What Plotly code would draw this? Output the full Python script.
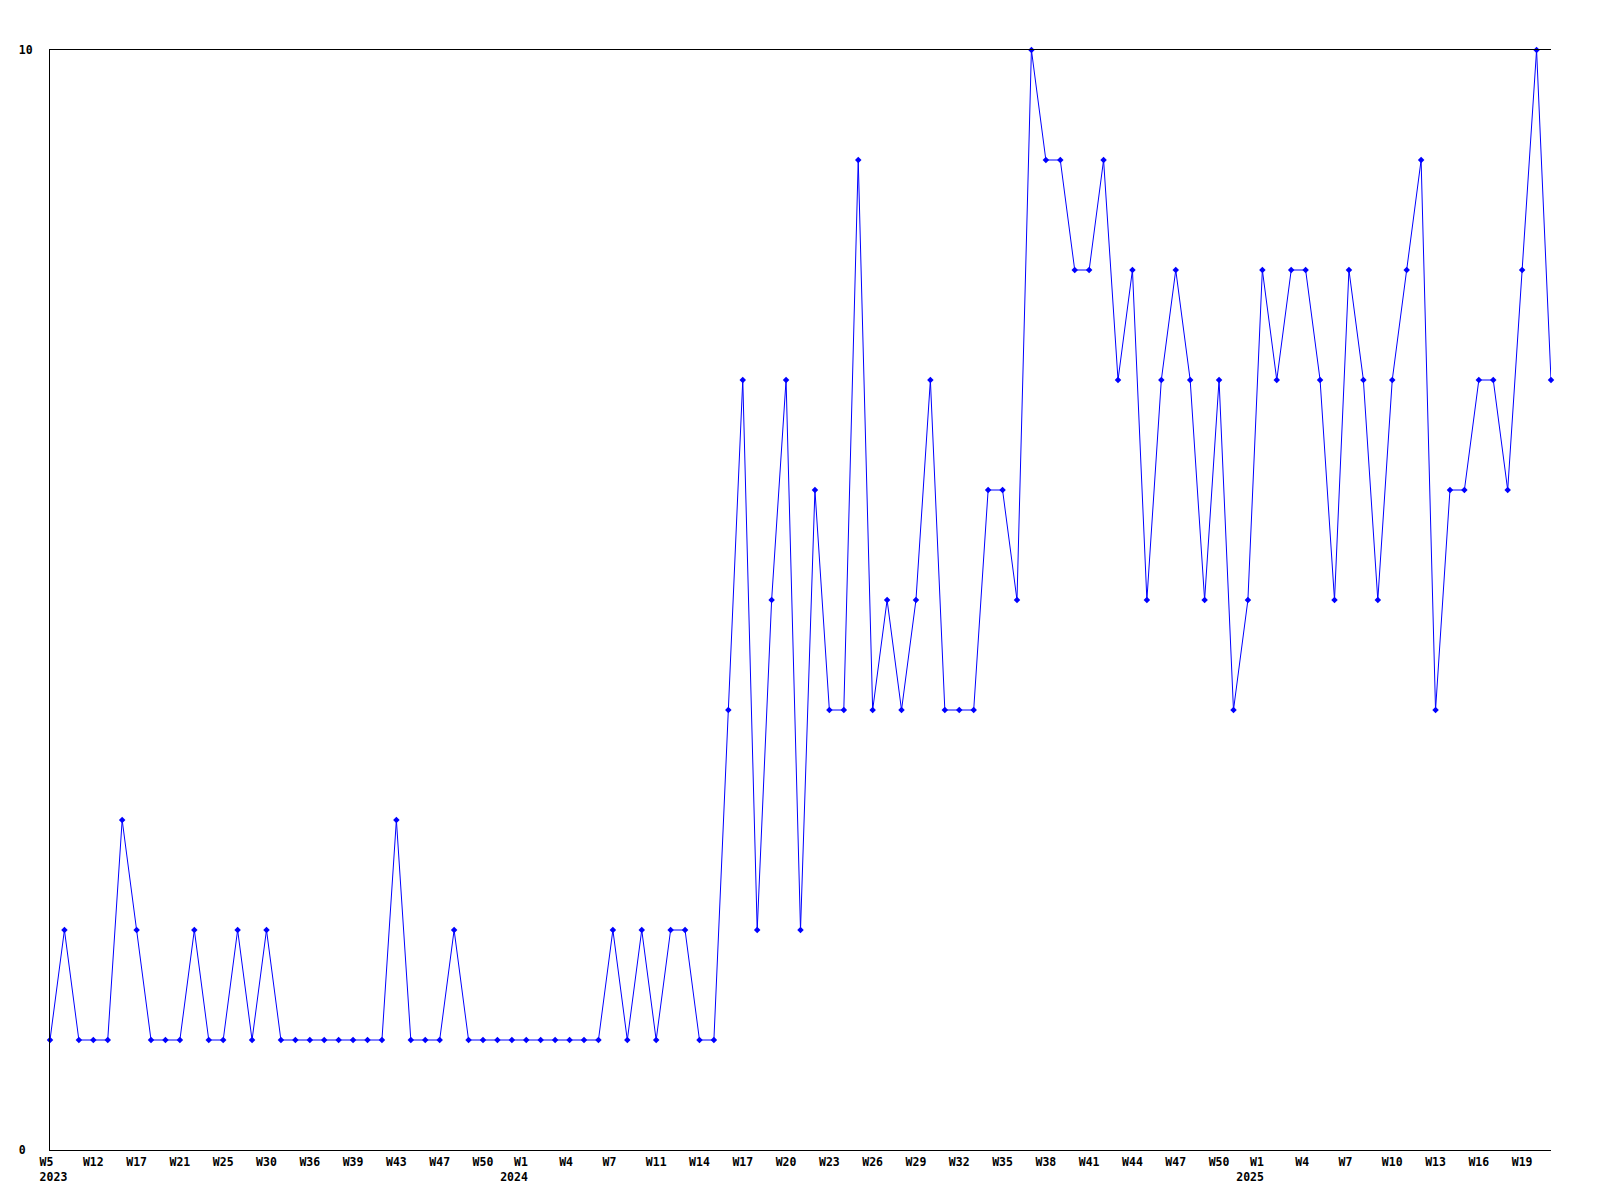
import plotly.graph_objects as go

# Weekly values (one point per week with data)
VALUES = [
    1, 2, 1, 1, 1, 3, 2, 1, 1, 1,
    2, 1, 1, 2, 1, 2, 1, 1, 1, 1,
    1, 1, 1, 1, 3, 1, 1, 1, 2, 1,
    1, 1, 1, 1, 1, 1, 1, 1, 1, 2,
    1, 2, 1, 2, 2, 1, 1, 4, 7, 2,
    5, 7, 2, 6, 4, 4, 9, 4, 5, 4,
    5, 7, 4, 4, 4, 6, 6, 5, 10, 9,
    9, 8, 8, 9, 7, 8, 5, 7, 8, 7,
    5, 7, 4, 5, 8, 7, 8, 8, 7, 5,
    8, 7, 5, 7, 8, 9, 4, 6, 6, 7,
    7, 6, 8, 10, 7,
]

# Tick labels: one every 3rd point
TICK_WEEKS = [
    "W5", "W12", "W17", "W21", "W25", "W30", "W36", "W39", "W43", "W47", "W50",
    "W1", "W4", "W7", "W11", "W14", "W17", "W20", "W23", "W26", "W29", "W32",
    "W35", "W38", "W41", "W44", "W47", "W50",
    "W1", "W4", "W7", "W10", "W13", "W16", "W19",
]
TICK_YEARS = {0: "2023", 11: "2024", 28: "2025"}
TICK_STEP = 3
Y_TICKS = [0, 10]
Y_TICK_TEXT = ["0\u00a0", "10"]

NBSP = "\u00a0"
x = list(range(len(VALUES)))

tickvals, ticktext = [], []
for k, w in enumerate(TICK_WEEKS):
    pos = k * TICK_STEP
    if k in TICK_YEARS:
        yr = TICK_YEARS[k]
        if k == 0:
            text = w + NBSP * (4 - len(w)) + "<br>" + yr
            pos += 0.24
        else:
            text = NBSP * (4 - len(w)) + w + "<br>" + yr
            pos -= 0.85
    else:
        text = w + NBSP * (3 - len(w))
    tickvals.append(pos)
    ticktext.append(text)

FONT = dict(family="DejaVu Sans Mono", size=11.5, color="black", weight="bold")

fig = go.Figure()
fig.add_trace(go.Scatter(
    x=x, y=VALUES, mode="lines+markers",
    line=dict(color="#0000ff", width=1),
    marker=dict(symbol="diamond", size=5, color="#0000ff"),
    cliponaxis=False,
    showlegend=False,
))

fig.update_layout(
    width=1592, height=1192,
    margin=dict(l=42, r=49, t=42, b=50, pad=0),
    paper_bgcolor="white", plot_bgcolor="white",
    font=FONT,
    xaxis=dict(
        range=[0, len(VALUES) - 1],
        tickmode="array", tickvals=tickvals, ticktext=ticktext,
        tickangle=0,
        showgrid=False, zeroline=False,
        showline=True, linecolor="black", linewidth=1, mirror=True,
        ticks="", ticklabelstandoff=1,
        tickfont=FONT,
    ),
    yaxis=dict(
        range=[0, 10],
        tickmode="array", tickvals=Y_TICKS, ticktext=Y_TICK_TEXT,
        showgrid=False, zeroline=False,
        showline=True, linecolor="black", linewidth=1, mirror=False,
        ticks="", ticklabelstandoff=14,
        tickfont=FONT,
    ),
)

fig.write_html("out.html")
